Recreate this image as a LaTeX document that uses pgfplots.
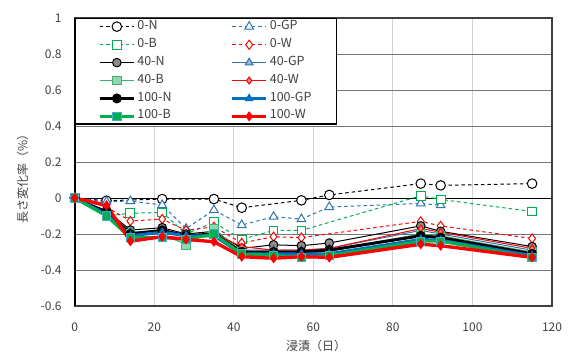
\documentclass[border=0pt]{standalone}
\usepackage{fontspec}
\setmainfont{Noto Sans CJK JP}
\usepackage{pgfplots}
\pgfplotsset{compat=1.18}
\definecolor{cgp}{RGB}{46,117,182}
\definecolor{cgpd}{RGB}{0,112,192}
\definecolor{cg}{RGB}{0,176,80}
\definecolor{cgl}{RGB}{60,179,113}
\definecolor{cbd}{RGB}{75,172,198}
\definecolor{cr}{RGB}{255,0,0}
\definecolor{gridd}{RGB}{118,118,118}
\definecolor{gridl}{RGB}{210,210,210}
\definecolor{frame}{RGB}{64,64,64}
\begin{document}
\begin{tikzpicture}
\useasboundingbox (0pt,0pt) rectangle (576pt,354pt);
\begin{axis}[
  at={(74.7pt,48pt)}, anchor=south west,
  scale only axis, width=477.3pt, height=288pt,
  xmin=0, xmax=120, ymin=-0.6, ymax=1,
  xtick={0,20,40,60,80,100,120},
  xticklabels={0,20,40,60,80,100,120},
  ytick={-0.6,-0.4,-0.2,0,0.2,0.4,0.6,0.8,1},
  yticklabels={-0.6,-0.4,-0.2,0,0.2,0.4,0.6,0.8,1},
  major tick length=0pt,
  grid=major,
  x grid style={gridl, line width=1pt},
  y grid style={gridd, line width=0.8pt},
  extra y ticks={0}, extra y tick labels={},
  extra y tick style={y grid style={black, line width=1pt}},
  extra x ticks={0}, extra x tick labels={},
  extra x tick style={x grid style={black, line width=1.6pt}},
  axis line style={draw=frame, line width=1.2pt},
  tick label style={font=\fontsize{12}{14}\selectfont, text=black!75},
  xticklabel style={anchor=north, inner sep=0pt, text height=8.7pt, text depth=0pt, yshift=-16.7pt},
  yticklabel style={anchor=east, inner sep=0pt, text height=8.7pt, text depth=0pt, xshift=-13pt},
  legend columns=2,
  legend style={at={(rel axis cs:0,1)}, anchor=north west, draw=black, line width=1.3pt, fill=white,
    inner xsep=23pt, inner ysep=3pt, row sep=8.7pt,
    font=\fontsize{12.5}{14}\selectfont,
    nodes={inner xsep=2pt, inner ysep=0pt, text height=7.2pt, text depth=2pt, text=black!75},
    /tikz/every even column/.append style={column sep=57pt}},
  legend cell align=left,
  legend image code/.code={\draw[mark repeat=2,mark phase=2,#1] plot coordinates {(0pt,0pt) (17pt,0pt) (34pt,0pt)};},
]
% 0-N
\addplot[black, line width=1pt, dash pattern=on 3.5pt off 3pt, mark=*, mark size=4.8pt, mark options={solid, fill=white, line width=1pt}]
 coordinates {(0,0) (8,-0.015) (22,-0.006) (35,-0.006) (42,-0.054) (57,-0.013) (64,0.017) (87,0.08) (92,0.07) (115,0.08)};
\addlegendentry{0-N}
% 0-GP
\addplot[cgp, line width=1pt, dash pattern=on 3.5pt off 3pt, mark=triangle*, mark size=5pt, mark options={solid, fill=white, line width=1pt}]
 coordinates {(0,0) (8,-0.02) (14,-0.017) (22,-0.039) (28,-0.17) (35,-0.067) (42,-0.15) (50,-0.104) (57,-0.117) (64,-0.05) (87,-0.03) (92,-0.04)};
\addlegendentry{0-GP}
% 0-B
\addplot[cg, line width=1pt, dash pattern=on 3.5pt off 3pt, mark=square*, mark size=4.4pt, mark options={solid, fill=white, line width=1pt}]
 coordinates {(0,0) (8,-0.1) (14,-0.085) (22,-0.08) (28,-0.2) (35,-0.135) (42,-0.23) (50,-0.18) (57,-0.18) (87,0.012) (92,-0.008) (115,-0.075)};
\addlegendentry{0-B}
% 0-W
\addplot[cr, line width=1pt, dash pattern=on 3.5pt off 3pt, mark=diamond*, mark size=4.6pt, mark options={solid, fill=white, line width=1pt}]
 coordinates {(0,0) (8,-0.05) (14,-0.128) (22,-0.117) (28,-0.18) (35,-0.16) (42,-0.25) (50,-0.215) (57,-0.22) (87,-0.13) (92,-0.155) (115,-0.225)};
\addlegendentry{0-W}
% 40-N
\addplot[black, line width=1pt, mark=*, mark size=4.3pt, mark options={solid, fill=black!45, draw=black, line width=1pt}]
 coordinates {(0,0) (8,-0.07) (14,-0.178) (22,-0.165) (28,-0.2) (35,-0.185) (42,-0.28) (50,-0.26) (57,-0.265) (64,-0.25) (87,-0.155) (92,-0.185) (115,-0.27)};
\addlegendentry{40-N}
% 40-GP
\addplot[cgp, line width=1pt, mark=triangle*, mark size=4.5pt, mark options={solid, fill=cgp!50, draw=cgp, line width=1pt}]
 coordinates {(0,0) (8,-0.08) (14,-0.19) (22,-0.18) (28,-0.21) (35,-0.2) (42,-0.29) (50,-0.29) (57,-0.29) (64,-0.28) (87,-0.18) (92,-0.2) (115,-0.29)};
\addlegendentry{40-GP}
% 40-B
\addplot[cgl, line width=1pt, mark=square*, mark size=4.2pt, mark options={solid, fill=cgl!55, draw=cgl, line width=1pt}]
 coordinates {(0,0) (8,-0.1) (14,-0.2) (22,-0.2) (28,-0.26) (35,-0.17) (42,-0.3) (50,-0.3) (57,-0.31) (64,-0.29) (87,-0.2) (92,-0.21) (115,-0.3)};
\addlegendentry{40-B}
% 40-W
\addplot[cr, line width=1pt, mark=diamond*, mark size=3.5pt, mark options={solid, fill=cr!50, draw=cr, line width=1pt}]
 coordinates {(0,0) (8,-0.05) (14,-0.2) (22,-0.19) (28,-0.21) (35,-0.2) (42,-0.27) (50,-0.29) (57,-0.29) (64,-0.28) (87,-0.17) (92,-0.19) (115,-0.28)};
\addlegendentry{40-W}
% 100-N
\addplot[black, line width=3pt, mark=*, mark size=4.5pt, mark options={solid, fill=black, line width=1pt}]
 coordinates {(0,0) (8,-0.08) (14,-0.2) (22,-0.18) (28,-0.21) (35,-0.2) (42,-0.3) (50,-0.3) (57,-0.3) (64,-0.29) (87,-0.21) (92,-0.22) (115,-0.31)};
\addlegendentry{100-N}
% 100-GP
\addplot[cgpd, line width=3pt, mark=triangle*, mark size=4.2pt, mark options={solid, fill=cgpd, line width=1pt}]
 coordinates {(0,0) (8,-0.09) (14,-0.21) (22,-0.19) (28,-0.21) (35,-0.21) (42,-0.31) (50,-0.31) (57,-0.31) (64,-0.31) (87,-0.23) (92,-0.235) (115,-0.32)};
\addlegendentry{100-GP}
% 100-B
\addplot[cg, line width=3pt, mark=square*, mark size=4.2pt, mark options={solid, fill=cg, draw=cbd, line width=1pt}]
 coordinates {(0,0) (8,-0.1) (14,-0.22) (22,-0.22) (28,-0.23) (35,-0.2) (42,-0.31) (50,-0.32) (57,-0.33) (64,-0.32) (87,-0.24) (92,-0.24) (115,-0.33)};
\addlegendentry{100-B}
% 100-W
\addplot[cr, line width=3.3pt, mark=diamond*, mark size=4.3pt, mark options={solid, fill=cr, line width=1pt}]
 coordinates {(0,0) (8,-0.04) (14,-0.24) (22,-0.215) (28,-0.23) (35,-0.243) (42,-0.326) (50,-0.335) (57,-0.326) (64,-0.33) (87,-0.257) (92,-0.265) (115,-0.33)};
\addlegendentry{100-W}
\end{axis}
\node[font=\fontsize{12}{14}\selectfont, text=black!75] at (316pt,8pt) {浸漬（日）};
\node[rotate=90, font=\fontsize{12}{14}\selectfont, text=black!75] at (22.5pt,178pt) {長さ変化率（\%）};
\end{tikzpicture}
\end{document}
